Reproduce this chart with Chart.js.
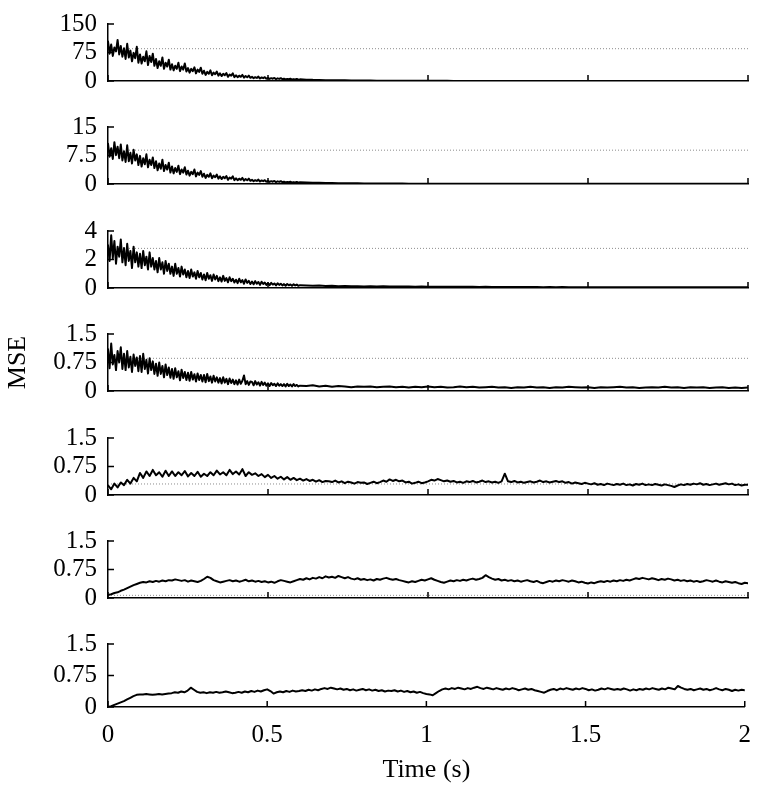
<!DOCTYPE html>
<html>
<head>
<meta charset="utf-8">
<script src="https://cdn.jsdelivr.net/npm/chart.js@4.4.0/dist/chart.umd.min.js"></script>
<style>
  html, body { margin: 0; padding: 0; background: #fff; }
  #fig { position: relative; width: 764px; height: 795px; overflow: hidden; }
  #fig canvas { position: absolute; left: 0; }
</style>
</head>
<body>
<div id="fig"></div>
<script>
// temps (s) pour les 4 premiers tracés : pas fin au début (bruit dense), plus large ensuite
const timeA = [
  0, 0.005, 0.01, 0.015, 0.02, 0.025, 0.03, 0.035, 0.04, 0.045,
  0.05, 0.055, 0.06, 0.065, 0.07, 0.075, 0.08, 0.085, 0.09, 0.095,
  0.1, 0.105, 0.11, 0.115, 0.12, 0.125, 0.13, 0.135, 0.14, 0.145,
  0.15, 0.155, 0.16, 0.165, 0.17, 0.175, 0.18, 0.185, 0.19, 0.195,
  0.2, 0.205, 0.21, 0.215, 0.22, 0.225, 0.23, 0.235, 0.24, 0.245,
  0.25, 0.255, 0.26, 0.265, 0.27, 0.275, 0.28, 0.285, 0.29, 0.295,
  0.3, 0.305, 0.31, 0.315, 0.32, 0.325, 0.33, 0.335, 0.34, 0.345,
  0.35, 0.355, 0.36, 0.365, 0.37, 0.375, 0.38, 0.385, 0.39, 0.395,
  0.4, 0.405, 0.41, 0.415, 0.42, 0.425, 0.43, 0.435, 0.44, 0.445,
  0.45, 0.455, 0.46, 0.465, 0.47, 0.475, 0.48, 0.485, 0.49, 0.495,
  0.5, 0.505, 0.51, 0.515, 0.52, 0.525, 0.53, 0.535, 0.54, 0.545,
  0.55, 0.555, 0.56, 0.565, 0.57, 0.575, 0.58, 0.585, 0.59, 0.595,
  0.6,
  0.62, 0.64, 0.66, 0.68, 0.7, 0.72, 0.74, 0.76, 0.78, 0.8,
  0.82, 0.84, 0.86, 0.88, 0.9, 0.92, 0.94, 0.96, 0.98, 1,
  1.02, 1.04, 1.06, 1.08, 1.1, 1.12, 1.14, 1.16, 1.18, 1.2,
  1.22, 1.24, 1.26, 1.28, 1.3, 1.32, 1.34, 1.36, 1.38, 1.4,
  1.42, 1.44, 1.46, 1.48, 1.5, 1.52, 1.54, 1.56, 1.58, 1.6,
  1.62, 1.64, 1.66, 1.68, 1.7, 1.72, 1.74, 1.76, 1.78, 1.8,
  1.82, 1.84, 1.86, 1.88, 1.9, 1.92, 1.94, 1.96, 1.98, 2
];

// temps (s) pour les 3 derniers tracés : pas régulier
const timeB = [
  0, 0.01, 0.02, 0.03, 0.04, 0.05, 0.06, 0.07, 0.08, 0.09,
  0.1, 0.11, 0.12, 0.13, 0.14, 0.15, 0.16, 0.17, 0.18, 0.19,
  0.2, 0.21, 0.22, 0.23, 0.24, 0.25, 0.26, 0.27, 0.28, 0.29,
  0.3, 0.31, 0.32, 0.33, 0.34, 0.35, 0.36, 0.37, 0.38, 0.39,
  0.4, 0.41, 0.42, 0.43, 0.44, 0.45, 0.46, 0.47, 0.48, 0.49,
  0.5, 0.51, 0.52, 0.53, 0.54, 0.55, 0.56, 0.57, 0.58, 0.59,
  0.6, 0.61, 0.62, 0.63, 0.64, 0.65, 0.66, 0.67, 0.68, 0.69,
  0.7, 0.71, 0.72, 0.73, 0.74, 0.75, 0.76, 0.77, 0.78, 0.79,
  0.8, 0.81, 0.82, 0.83, 0.84, 0.85, 0.86, 0.87, 0.88, 0.89,
  0.9, 0.91, 0.92, 0.93, 0.94, 0.95, 0.96, 0.97, 0.98, 0.99,
  1, 1.01, 1.02, 1.03, 1.04, 1.05, 1.06, 1.07, 1.08, 1.09,
  1.1, 1.11, 1.12, 1.13, 1.14, 1.15, 1.16, 1.17, 1.18, 1.19,
  1.2, 1.21, 1.22, 1.23, 1.24, 1.25, 1.26, 1.27, 1.28, 1.29,
  1.3, 1.31, 1.32, 1.33, 1.34, 1.35, 1.36, 1.37, 1.38, 1.39,
  1.4, 1.41, 1.42, 1.43, 1.44, 1.45, 1.46, 1.47, 1.48, 1.49,
  1.5, 1.51, 1.52, 1.53, 1.54, 1.55, 1.56, 1.57, 1.58, 1.59,
  1.6, 1.61, 1.62, 1.63, 1.64, 1.65, 1.66, 1.67, 1.68, 1.69,
  1.7, 1.71, 1.72, 1.73, 1.74, 1.75, 1.76, 1.77, 1.78, 1.79,
  1.8, 1.81, 1.82, 1.83, 1.84, 1.85, 1.86, 1.87, 1.88, 1.89,
  1.9, 1.91, 1.92, 1.93, 1.94, 1.95, 1.96, 1.97, 1.98, 1.99,
  2
];

const mse1 = [
  104, 72, 96, 66, 88, 78, 108, 70, 92, 64,
  86, 58, 98, 62, 80, 52, 74, 60, 90, 48,
  70, 46, 64, 52, 78, 42, 66, 50, 72, 40,
  58, 34, 52, 40, 62, 32, 48, 38, 56, 30,
  44, 28, 40, 32, 48, 26, 38, 30, 46, 25,
  34, 22, 32, 26, 36, 20, 30, 24, 35, 19,
  27, 16, 24, 19, 28, 15, 22, 18, 25, 14,
  20, 13, 19, 15, 21, 11, 17, 14, 20, 10,
  15, 10, 14, 11, 16, 9, 13, 10, 14, 8.5,
  11, 7.5, 10, 8, 11.5, 6.5, 9.5, 7.5, 10, 6,
  8, 5.5, 7.5, 6, 8, 5, 7, 5.5, 7.5, 4.5,
  6, 4, 5.5, 4.5, 6, 3.8, 5, 4, 5.5, 3.4,
  4.3,
  3.6, 3.0, 2.9, 2.3, 2.2, 1.8, 1.7, 1.4, 1.4, 1.1,
  1.0, 0.9, 0.85, 0.7, 0.65, 0.6, 0.55, 0.5, 0.45, 0.42,
  0.4, 0.36, 0.35, 0.32, 0.3, 0.3, 0.28, 0.26, 0.27, 0.24,
  0.24, 0.22, 0.23, 0.2, 0.21, 0.2, 0.19, 0.18, 0.2, 0.17,
  0.17, 0.16, 0.17, 0.15, 0.16, 0.15, 0.14, 0.15, 0.14, 0.13,
  0.14, 0.13, 0.12, 0.13, 0.12, 0.12, 0.11, 0.12, 0.11, 0.1,
  0.11, 0.1, 0.11, 0.1, 0.1, 0.09, 0.1, 0.09, 0.09, 0.09
];

const mse2 = [
  10.6, 7.2, 9.4, 6.6, 11.0, 7.6, 9.8, 6.8, 10.4, 6.2,
  8.6, 5.8, 10.2, 6.0, 8.2, 5.4, 9.0, 6.2, 7.8, 5.0,
  7.4, 4.6, 6.8, 5.2, 7.8, 4.4, 6.4, 5.0, 7.0, 4.2,
  6.0, 3.6, 5.4, 4.0, 6.4, 3.4, 5.0, 3.8, 5.6, 3.0,
  4.6, 2.8, 4.2, 3.2, 4.8, 2.6, 3.8, 3.0, 4.4, 2.5,
  3.5, 2.2, 3.2, 2.6, 3.8, 2.0, 3.0, 2.4, 3.4, 1.9,
  2.7, 1.6, 2.4, 1.9, 2.8, 1.5, 2.2, 1.8, 2.5, 1.4,
  2.0, 1.3, 1.9, 1.5, 2.1, 1.1, 1.7, 1.4, 2.0, 1.0,
  1.5, 1.0, 1.4, 1.1, 1.6, 0.9, 1.3, 1.0, 1.4, 0.85,
  1.1, 0.75, 1.0, 0.8, 1.15, 0.65, 0.95, 0.75, 1.0, 0.6,
  0.8, 0.55, 0.75, 0.6, 0.8, 0.5, 0.7, 0.55, 0.75, 0.45,
  0.6, 0.4, 0.55, 0.45, 0.6, 0.38, 0.5, 0.4, 0.55, 0.34,
  0.45,
  0.42, 0.36, 0.33, 0.28, 0.26, 0.22, 0.21, 0.18, 0.17, 0.15,
  0.14, 0.13, 0.12, 0.11, 0.1, 0.1, 0.09, 0.085, 0.08, 0.075,
  0.07, 0.07, 0.065, 0.06, 0.06, 0.055, 0.055, 0.05, 0.05, 0.05,
  0.05, 0.045, 0.05, 0.045, 0.05, 0.045, 0.045, 0.04, 0.045, 0.04,
  0.045, 0.04, 0.045, 0.04, 0.04, 0.045, 0.04, 0.04, 0.04, 0.04,
  0.04, 0.04, 0.035, 0.04, 0.04, 0.035, 0.04, 0.035, 0.04, 0.035,
  0.04, 0.035, 0.035, 0.04, 0.035, 0.035, 0.035, 0.04, 0.035, 0.035
];

const mse3 = [
  3.0, 1.9, 3.7, 2.1, 3.3, 1.7, 2.9, 2.2, 3.4, 1.8,
  2.8, 1.6, 3.1, 1.9, 2.6, 1.4, 2.9, 1.8, 2.5, 1.5,
  2.4, 1.4, 2.6, 1.6, 2.2, 1.3, 2.5, 1.5, 2.1, 1.3,
  1.9, 1.1, 2.1, 1.3, 1.8, 1.0, 1.9, 1.2, 1.7, 1.0,
  1.5, 0.85, 1.7, 1.0, 1.4, 0.8, 1.5, 0.95, 1.3, 0.75,
  1.2, 0.7, 1.3, 0.8, 1.1, 0.65, 1.2, 0.75, 1.05, 0.6,
  0.95, 0.55, 1.05, 0.65, 0.9, 0.5, 0.95, 0.6, 0.85, 0.48,
  0.75, 0.45, 0.85, 0.5, 0.7, 0.4, 0.75, 0.48, 0.65, 0.38,
  0.58, 0.34, 0.65, 0.4, 0.55, 0.3, 0.6, 0.36, 0.5, 0.28,
  0.45, 0.26, 0.48, 0.3, 0.42, 0.22, 0.44, 0.28, 0.38, 0.22,
  0.34, 0.2, 0.36, 0.24, 0.32, 0.18, 0.33, 0.22, 0.3, 0.18,
  0.27, 0.16, 0.28, 0.19, 0.25, 0.15, 0.26, 0.18, 0.24, 0.15,
  0.2,
  0.18, 0.15, 0.17, 0.14, 0.15, 0.13, 0.14, 0.12, 0.13, 0.11,
  0.12, 0.11, 0.12, 0.1, 0.11, 0.1, 0.1, 0.09, 0.1, 0.09,
  0.09, 0.085, 0.09, 0.08, 0.085, 0.08, 0.08, 0.075, 0.08, 0.07,
  0.075, 0.07, 0.07, 0.065, 0.07, 0.065, 0.07, 0.06, 0.065, 0.06,
  0.065, 0.06, 0.06, 0.055, 0.06, 0.06, 0.055, 0.06, 0.055, 0.05,
  0.055, 0.05, 0.055, 0.05, 0.05, 0.055, 0.05, 0.05, 0.045, 0.05,
  0.05, 0.045, 0.05, 0.045, 0.05, 0.045, 0.045, 0.05, 0.045, 0.045
];

const mse4 = [
  1.1, 0.6, 1.25, 0.7, 0.95, 0.55, 1.05, 0.75, 1.15, 0.58,
  0.98, 0.55, 1.05, 0.62, 0.9, 0.5, 0.96, 0.66, 0.88, 0.52,
  0.92, 0.5, 0.98, 0.58, 0.82, 0.46, 0.86, 0.55, 0.78, 0.45,
  0.72, 0.4, 0.75, 0.45, 0.66, 0.36, 0.7, 0.42, 0.62, 0.35,
  0.58, 0.32, 0.6, 0.36, 0.52, 0.28, 0.56, 0.34, 0.5, 0.29,
  0.48, 0.27, 0.5, 0.3, 0.44, 0.25, 0.46, 0.29, 0.42, 0.25,
  0.42, 0.23, 0.45, 0.26, 0.38, 0.22, 0.4, 0.25, 0.36, 0.22,
  0.34, 0.2, 0.36, 0.22, 0.32, 0.18, 0.33, 0.21, 0.3, 0.18,
  0.28, 0.17, 0.3, 0.19, 0.27, 0.41, 0.18, 0.26, 0.16, 0.25,
  0.24, 0.15, 0.26, 0.17, 0.23, 0.14, 0.24, 0.16, 0.22, 0.14,
  0.2, 0.13, 0.21, 0.15, 0.19, 0.13, 0.2, 0.14, 0.18, 0.13,
  0.18, 0.12, 0.19, 0.13, 0.17, 0.12, 0.18, 0.13, 0.16, 0.12,
  0.14,
  0.13, 0.15, 0.12, 0.14, 0.11, 0.13, 0.12, 0.1, 0.12, 0.11,
  0.12, 0.1, 0.11, 0.12, 0.1, 0.11, 0.09, 0.11, 0.1, 0.12,
  0.1, 0.11, 0.09, 0.1, 0.12, 0.1, 0.11, 0.09, 0.1, 0.11,
  0.09, 0.1, 0.08, 0.1, 0.09, 0.11, 0.09, 0.1, 0.08, 0.1,
  0.09, 0.11, 0.1, 0.09, 0.1, 0.08, 0.1, 0.09, 0.1, 0.11,
  0.09, 0.1, 0.08, 0.09, 0.1, 0.09, 0.11, 0.09, 0.1, 0.08,
  0.1, 0.09, 0.1, 0.08, 0.09, 0.1, 0.08, 0.09, 0.08, 0.09
];

const mse5 = [
  0.25, 0.15, 0.3, 0.2, 0.33, 0.26, 0.4, 0.3, 0.45, 0.36,
  0.58, 0.45, 0.62, 0.5, 0.66, 0.52, 0.6, 0.48, 0.64, 0.5,
  0.62, 0.5, 0.6, 0.52, 0.63, 0.49, 0.58, 0.5, 0.61, 0.48,
  0.56, 0.5, 0.6, 0.52, 0.64, 0.54, 0.6, 0.52, 0.66, 0.55,
  0.62, 0.54, 0.68, 0.5, 0.6, 0.53, 0.57, 0.5, 0.55, 0.47,
  0.53, 0.45, 0.5, 0.43, 0.48, 0.41, 0.47, 0.4, 0.45, 0.39,
  0.43, 0.38, 0.42, 0.37, 0.4, 0.35, 0.39, 0.34, 0.37, 0.36,
  0.34, 0.38, 0.33, 0.36, 0.31, 0.35, 0.33, 0.3, 0.34, 0.32,
  0.33, 0.29, 0.32, 0.35, 0.31, 0.34, 0.38, 0.35, 0.41, 0.37,
  0.4, 0.36, 0.38, 0.33, 0.35, 0.3, 0.32, 0.35, 0.31, 0.33,
  0.36, 0.4, 0.38, 0.42, 0.39, 0.36, 0.38, 0.35, 0.37, 0.33,
  0.35, 0.32, 0.36, 0.34, 0.37, 0.33, 0.35, 0.38, 0.34, 0.36,
  0.33, 0.35, 0.32, 0.36, 0.56, 0.36, 0.34, 0.37, 0.33, 0.35,
  0.32, 0.34, 0.36, 0.33, 0.35, 0.38, 0.34, 0.36, 0.33, 0.35,
  0.37, 0.34, 0.36, 0.32, 0.34, 0.3, 0.33, 0.31, 0.29, 0.32,
  0.3, 0.28, 0.31, 0.27, 0.29, 0.26, 0.3, 0.28, 0.26, 0.29,
  0.27, 0.3, 0.26, 0.28, 0.25, 0.29, 0.27, 0.3, 0.26, 0.28,
  0.26, 0.29, 0.27, 0.25, 0.28, 0.26, 0.24, 0.21, 0.25, 0.28,
  0.26, 0.29, 0.27, 0.3, 0.28, 0.31, 0.27, 0.29, 0.26, 0.28,
  0.3, 0.27, 0.29, 0.31, 0.28, 0.3, 0.26, 0.28, 0.25, 0.27,
  0.27
];

const mse6 = [
  0.08, 0.1, 0.13, 0.15, 0.19, 0.22, 0.26, 0.3, 0.34, 0.37,
  0.4, 0.42, 0.41, 0.44, 0.42, 0.45, 0.43, 0.46, 0.44, 0.47,
  0.46, 0.49, 0.47, 0.45, 0.47, 0.43, 0.46, 0.44, 0.42, 0.45,
  0.5, 0.56, 0.53, 0.47, 0.44, 0.41, 0.43, 0.45, 0.47, 0.44,
  0.46, 0.43, 0.45, 0.48, 0.44, 0.46, 0.43, 0.45, 0.42, 0.44,
  0.41, 0.43, 0.4, 0.44, 0.47, 0.45, 0.43, 0.41, 0.44, 0.47,
  0.5, 0.48, 0.52, 0.49, 0.53, 0.51, 0.55, 0.52, 0.57, 0.54,
  0.56, 0.53, 0.58, 0.55, 0.52, 0.55, 0.51, 0.49, 0.52, 0.48,
  0.5, 0.47, 0.49, 0.46, 0.5, 0.48, 0.51, 0.53, 0.5, 0.48,
  0.5, 0.47, 0.45, 0.43, 0.41, 0.44, 0.42, 0.45, 0.48, 0.46,
  0.49, 0.52, 0.48, 0.45, 0.42, 0.4, 0.43, 0.46, 0.44, 0.47,
  0.45, 0.48, 0.46, 0.49, 0.51, 0.48, 0.5, 0.53, 0.6, 0.55,
  0.51, 0.48, 0.5, 0.46, 0.48, 0.45, 0.47, 0.44, 0.46, 0.43,
  0.45, 0.47, 0.44, 0.42, 0.45, 0.41, 0.39, 0.42, 0.45, 0.43,
  0.46, 0.44, 0.47, 0.45, 0.43, 0.46, 0.44, 0.41, 0.43, 0.4,
  0.38, 0.41, 0.39, 0.42, 0.44, 0.42, 0.45, 0.43, 0.46, 0.44,
  0.47, 0.45, 0.48, 0.46, 0.49, 0.52, 0.5, 0.53, 0.51, 0.49,
  0.52, 0.5, 0.47, 0.5, 0.48, 0.51, 0.49, 0.46, 0.48, 0.45,
  0.47, 0.44, 0.46, 0.43, 0.45, 0.42, 0.44, 0.47, 0.45, 0.43,
  0.46, 0.43, 0.41, 0.44, 0.42, 0.4, 0.42, 0.39, 0.37, 0.4,
  0.39
];

const mse7 = [
  0, 0.02, 0.05, 0.08, 0.11, 0.14, 0.18, 0.22, 0.26, 0.29,
  0.3, 0.3, 0.31, 0.3, 0.29, 0.3, 0.31, 0.3, 0.31, 0.32,
  0.33, 0.35, 0.34, 0.37, 0.35, 0.39, 0.46, 0.41, 0.36, 0.34,
  0.35, 0.33, 0.35, 0.34, 0.36, 0.34, 0.35, 0.37, 0.35, 0.33,
  0.34, 0.36, 0.34, 0.37, 0.35, 0.38, 0.36, 0.39, 0.37, 0.4,
  0.42, 0.38, 0.32, 0.35, 0.37, 0.35, 0.38, 0.36, 0.39, 0.37,
  0.38, 0.4, 0.38, 0.41, 0.39, 0.42, 0.4, 0.43, 0.45, 0.43,
  0.46, 0.44, 0.42, 0.44, 0.41, 0.43, 0.4, 0.42, 0.39, 0.41,
  0.43, 0.4, 0.42, 0.39, 0.41, 0.38, 0.4, 0.37, 0.39, 0.38,
  0.4, 0.37, 0.39, 0.36, 0.38, 0.35, 0.37, 0.34, 0.36, 0.33,
  0.31, 0.3, 0.28, 0.33, 0.38, 0.42, 0.44, 0.42, 0.45, 0.43,
  0.46, 0.44, 0.42, 0.45, 0.43, 0.46, 0.48, 0.45, 0.43, 0.46,
  0.44, 0.42, 0.45, 0.43, 0.41, 0.44, 0.42, 0.45, 0.43, 0.4,
  0.42, 0.44, 0.41, 0.43, 0.4, 0.38, 0.36, 0.34, 0.38, 0.41,
  0.43, 0.4, 0.44, 0.42, 0.45, 0.43, 0.41, 0.44, 0.42, 0.45,
  0.43, 0.4, 0.42, 0.39, 0.41, 0.44, 0.42, 0.45, 0.43, 0.41,
  0.43, 0.41, 0.44, 0.42, 0.39, 0.42, 0.4, 0.43, 0.41, 0.44,
  0.42, 0.45, 0.43, 0.41, 0.44, 0.42, 0.46, 0.44, 0.42, 0.5,
  0.46, 0.43, 0.41, 0.43, 0.4, 0.42, 0.44, 0.41, 0.43, 0.4,
  0.42, 0.45, 0.42, 0.4, 0.43, 0.41, 0.38, 0.41, 0.39, 0.41,
  0.4
];

// lignes de référence pointillées (null = aucune)
const refLevels = [85, 8.9, 2.78, 0.86, 0.29, 0.07, null];

// graduations
const yTicks1 = [0, 75, 150];
const yLabels1 = ['0', '75', '150'];
const yTicks2 = [0, 7.5, 15];
const yLabels2 = ['0', '7.5', '15'];
const yTicks3 = [0, 2, 4];
const yLabels3 = ['0', '2', '4'];
const yTicksSmall = [0, 0.75, 1.5];
const yLabelsSmall = ['0', '0.75', '1.5'];
const xTicks = [0, 0.5, 1, 1.5, 2];
const xLabels = ['0', '0.5', '1', '1.5', '2'];

const panels = [
  { time: timeA, values: mse1, ticks: yTicks1, labels: yLabels1 },
  { time: timeA, values: mse2, ticks: yTicks2, labels: yLabels2 },
  { time: timeA, values: mse3, ticks: yTicks3, labels: yLabels3 },
  { time: timeA, values: mse4, ticks: yTicksSmall, labels: yLabelsSmall },
  { time: timeB, values: mse5, ticks: yTicksSmall, labels: yLabelsSmall },
  { time: timeB, values: mse6, ticks: yTicksSmall, labels: yLabelsSmall },
  { time: timeB, values: mse7, ticks: yTicksSmall, labels: yLabelsSmall }
];

// mise en page (pixels)
const areaTops = [18, 121, 225, 328, 432, 535, 638];
const areaH = 69;
const marg = 20;
const axisW = 108;
const padRight = 16;
const W = 764, H = 795;

const serif = "'Liberation Serif', 'Times New Roman', serif";
const tickFont = { family: serif, size: 25 };
const titleFont = { family: serif, size: 26 };

// petites graduations vers l'intérieur
const innerTicks = {
  id: 'innerTicks',
  afterDraw(chart) {
    const { ctx, chartArea, scales } = chart;
    ctx.save();
    ctx.strokeStyle = '#000';
    ctx.lineWidth = 1.5;
    ctx.beginPath();
    scales.y.ticks.forEach(t => {
      const py = scales.y.getPixelForValue(t.value);
      ctx.moveTo(chartArea.left, py);
      ctx.lineTo(chartArea.left + 6, py);
    });
    scales.x.ticks.forEach(t => {
      const px = scales.x.getPixelForValue(t.value);
      ctx.moveTo(px, chartArea.bottom);
      ctx.lineTo(px, chartArea.bottom - 6);
    });
    ctx.stroke();
    ctx.restore();
  }
};

const fig = document.getElementById('fig');

panels.forEach((p, i) => {
  const last = i === panels.length - 1;
  const top = areaTops[i] - marg;
  const h = last ? H - top : areaH + 2 * marg;
  const xAxisH = last ? h - marg - areaH : 0;

  const canvas = document.createElement('canvas');
  canvas.width = W;
  canvas.height = h;
  canvas.style.width = W + 'px';
  canvas.style.height = h + 'px';
  canvas.style.top = top + 'px';
  fig.appendChild(canvas);

  const datasets = [{
    data: p.time.map((t, k) => ({ x: t, y: p.values[k] })),
    borderColor: '#000',
    borderWidth: 2,
    borderJoinStyle: 'round',
    borderCapStyle: 'round',
    pointRadius: 0,
    tension: 0,
    fill: false
  }];
  if (refLevels[i] !== null) {
    datasets.push({
      data: [{ x: 0, y: refLevels[i] }, { x: 2, y: refLevels[i] }],
      borderColor: '#8c8c8c',
      borderWidth: 1,
      borderDash: [1, 2],
      pointRadius: 0,
      fill: false
    });
  }

  new Chart(canvas.getContext('2d'), {
    type: 'line',
    data: { datasets },
    options: {
      responsive: false,
      devicePixelRatio: 1,
      animation: false,
      events: [],
      layout: { padding: { top: marg, bottom: last ? 0 : marg, left: 0, right: padRight } },
      plugins: { legend: { display: false }, tooltip: { enabled: false } },
      scales: {
        x: {
          type: 'linear',
          min: 0,
          max: 2,
          afterBuildTicks: s => { s.ticks = xTicks.map(v => ({ value: v })); },
          afterFit: s => { s.height = xAxisH; },
          grid: { display: false, drawTicks: false },
          border: { display: true, color: '#000', width: 1.5 },
          ticks: {
            display: last,
            autoSkip: false,
            maxRotation: 0,
            padding: 13,
            color: '#000',
            font: tickFont,
            callback: (v, k) => xLabels[k]
          },
          title: {
            display: last,
            text: 'Time (s)',
            color: '#000',
            font: titleFont,
            padding: { top: 0, bottom: 9 }
          }
        },
        y: {
          min: 0,
          max: p.ticks[p.ticks.length - 1],
          afterBuildTicks: s => { s.ticks = p.ticks.map(v => ({ value: v })); },
          afterFit: s => { s.width = axisW; },
          grid: { display: false, drawTicks: false },
          border: { display: true, color: '#000', width: 1.5 },
          ticks: {
            autoSkip: false,
            padding: 11,
            color: '#000',
            font: tickFont,
            callback: (v, k) => p.labels[k]
          },
          title: {
            display: i === 3,
            text: 'MSE',
            color: '#000',
            font: titleFont,
            padding: { top: 3, bottom: 0 }
          }
        }
      }
    },
    plugins: [innerTicks]
  });
});
</script>
</body>
</html>
